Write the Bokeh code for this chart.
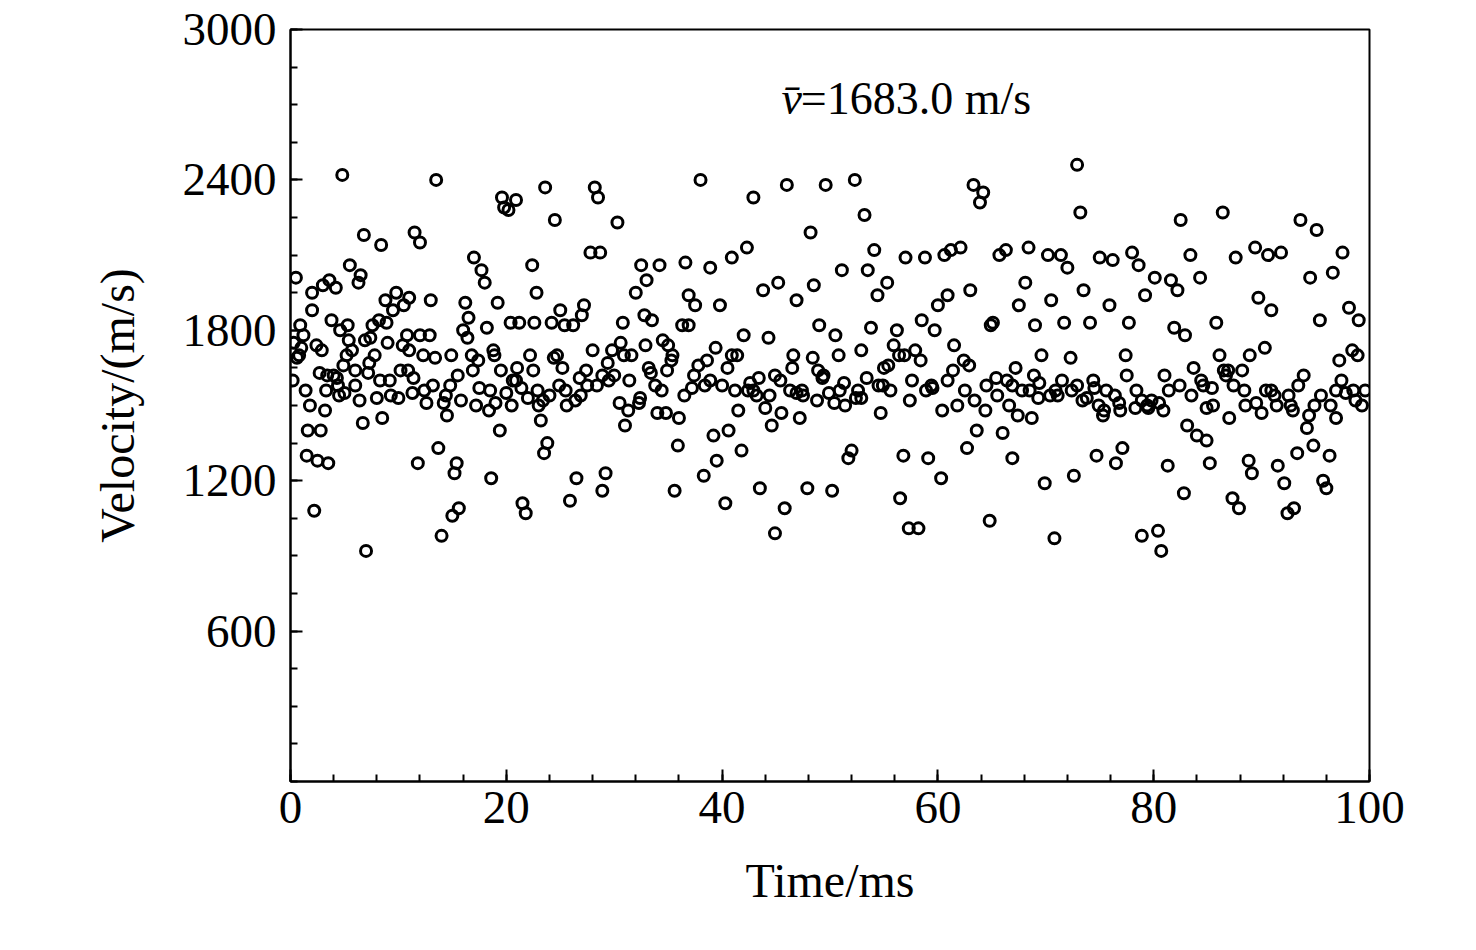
from bokeh.plotting import figure
from bokeh.models import FixedTicker, ColumnDataSource
from bokeh.core.properties import value
from bokeh.embed import file_html
from bokeh.resources import INLINE

# velocity samples (time in ms, velocity in m/s)
t_ms = [0.2, 0.3, 0.5, 0.8, 1, 1.2, 1.5, 1.6, 1.8, 2, 2, 2.2, 2.5, 2.7, 2.8, 3, 3.2, 3.3, 3.5, 3.6,
        3.8, 4, 4.2, 4.3, 4.5, 4.6, 4.8, 5, 5.2, 5.3, 5.5, 5.7, 6, 6, 6.3, 6.5, 6.7, 6.8, 7, 7.2,
        7.4, 7.6, 7.8, 8, 8.2, 8.4, 8.5, 8.8, 9, 9.2, 9.5, 9.8, 10, 10.2, 10.5, 10.8, 11, 11, 11.3, 11.5,
        11.8, 12, 12, 12.3, 12.6, 13, 13.2, 13.5, 13.7, 14, 14.2, 14.5, 14.8, 15, 15.2, 15.4, 15.6, 15.8, 16, 16.2,
        16.5, 16.8, 17, 17.2, 17.5, 17.7, 18, 18.2, 18.4, 18.6, 18.8, 19, 19.2, 19.4, 19.6, 19.8, 20, 20.2, 20.4, 20.6,
        20.9, 21, 21.2, 21.5, 21.8, 22, 22.2, 22.4, 22.6, 22.8, 23, 23.2, 23.5, 23.6, 23.8, 24, 24.2, 24.5, 24.7, 25,
        25.2, 25.4, 25.6, 25.9, 26.2, 26.5, 26.8, 27, 27.2, 27.5, 27.8, 28, 28.2, 28.5, 28.7, 28.9, 29.2, 29.5, 29.8, 30,
        30.3, 30.6, 30.8, 31, 31.3, 31.6, 32, 32.3, 32.5, 32.8, 33, 33.2, 33.5, 33.8, 34, 34.2, 34.5, 34.8, 35, 35.3,
        35.6, 35.9, 36, 36.3, 36.6, 36.9, 37.2, 37.5, 37.8, 38, 38.3, 38.6, 38.9, 39.2, 39.5, 39.8, 40, 40.3, 40.6, 40.9,
        41.2, 41.5, 41.8, 42, 42.3, 42.6, 42.9, 43.2, 43.5, 43.8, 44, 44.3, 44.6, 44.9, 45.2, 45.5, 45.8, 46, 46.3, 46.6,
        46.9, 47.2, 47.5, 47.9, 48.2, 48.5, 48.8, 49, 49.3, 49.6, 49.9, 50.2, 50.5, 50.8, 51.1, 51.4, 51.7, 52, 52.3, 52.6,
        52.9, 53.2, 53.5, 53.8, 54.1, 54.4, 54.7, 55, 55.3, 55.6, 55.9, 56.2, 56.5, 56.8, 57, 57.3, 57.6, 57.9, 58.2, 58.5,
        58.8, 59.1, 59.4, 59.7, 60, 60.3, 60.6, 60.9, 61.2, 61.5, 61.8, 62.1, 62.4, 62.7, 63, 63.3, 63.6, 63.9, 64.2, 64.5,
        64.8, 65.1, 65.4, 65.7, 66, 66.3, 66.6, 66.9, 67.2, 67.5, 67.8, 68.1, 68.4, 68.7, 69, 69.3, 69.6, 69.9, 70.2, 70.5,
        70.8, 71.1, 71.4, 71.7, 72, 72.3, 72.6, 72.9, 73.2, 73.5, 73.8, 74.1, 74.4, 74.7, 75, 75.3, 75.6, 75.9, 76.2, 76.5,
        76.8, 77.1, 77.4, 77.7, 78, 78.3, 78.6, 78.9, 79.2, 79.5, 79.8, 80.1, 80.4, 80.7, 81, 81.3, 81.6, 81.9, 82.2, 82.5,
        82.8, 83.1, 83.4, 83.7, 84, 84.3, 84.6, 84.9, 85.2, 85.5, 85.8, 86.1, 86.4, 86.7, 87, 87.3, 87.6, 87.9, 88.2, 88.5,
        88.8, 89.1, 89.4, 89.7, 90, 90.3, 90.6, 90.9, 91.2, 91.5, 91.8, 92.1, 92.4, 92.7, 93, 93.3, 93.6, 93.9, 94.2, 94.5,
        94.8, 95.1, 95.4, 95.7, 96, 96.3, 96.6, 96.9, 97.2, 97.5, 97.8, 98.1, 98.4, 98.7, 99, 99.3]
v_ms = [1600, 1750, 2010, 1700, 1730, 1780, 1300, 1400, 1500, 1950, 1880, 1080, 1280, 1630, 1400, 1980, 1480, 1560, 1270, 2000,
        1840, 1620, 1970, 1610, 1540, 1800, 2420, 1550, 1700, 1820, 2060, 1720, 1580, 1640, 1990, 2020, 1430, 2180, 920, 1630,
        1770, 1820, 1700, 1530, 1840, 2140, 1450, 1920, 1750, 1600, 1880, 1950, 1530, 1640, 1900, 1780, 1930, 1720, 1550, 2190,
        1270, 2150, 1780, 1700, 1510, 1920, 1580, 2400, 1330, 980, 1510, 1460, 1580, 1060, 1230, 1270, 1090, 1520, 1800, 1910,
        1850, 1700, 2090, 1500, 1570, 2040, 1990, 1810, 1480, 1210, 1720, 1510, 1910, 1400, 2330, 2290, 1550, 2280, 1830, 1600,
        2320, 1650, 1830, 1110, 1070, 1530, 1700, 2060, 1830, 1950, 1500, 1440, 1310, 2370, 1350, 1540, 1830, 2240, 1700, 1880,
        1650, 1820, 1500, 1120, 1820, 1210, 1610, 1860, 1900, 1580, 2110, 1720, 2370, 2330, 2110, 1160, 1230, 1600, 1720, 1620,
        2230, 1750, 1830, 1420, 1480, 1700, 1950, 1510, 2060, 1860, 2000, 1650, 1840, 1580, 1470, 2060, 1760, 1470, 1740, 1680,
        1160, 1340, 1450, 1820, 2070, 1940, 1570, 1900, 1660, 2400, 1220, 1680, 2050, 1380, 1280, 1900, 1580, 1110, 1400, 2090,
        1560, 1480, 1320, 1780, 2130, 1590, 2330, 1540, 1170, 1960, 1490, 1770, 1420, 990, 1990, 1470, 1090, 2380, 1560, 1700,
        1920, 1450, 1540, 1170, 2190, 1980, 1520, 1820, 1610, 2380, 1550, 1160, 1780, 1700, 2040, 1500, 1290, 1320, 2400, 1560,
        1530, 2260, 2040, 1810, 2120, 1940, 1470, 1650, 1990, 1560, 1740, 1800, 1130, 1300, 2090, 1010, 1600, 1720, 1010, 1840,
        2090, 1290, 1580, 1800, 1900, 1210, 2100, 1940, 2120, 1740, 1500, 2130, 1680, 1330, 1960, 2380, 1400, 2310, 2350, 1580,
        1040, 1830, 1610, 2100, 1390, 2120, 1500, 1290, 1650, 1900, 1560, 1990, 2130, 1450, 1820, 1530, 1700, 1190, 2100, 1920,
        970, 1540, 2100, 1830, 2050, 1690, 1220, 2460, 2270, 1960, 1530, 1830, 1600, 1300, 2090, 1460, 1560, 1900, 2080, 1270,
        1510, 1330, 1700, 1830, 2110, 1490, 2060, 980, 1940, 1490, 1520, 2010, 1000, 920, 1620, 1260, 2000, 1810, 1960, 2240,
        1150, 1420, 2100, 1650, 1380, 2010, 1580, 1360, 1270, 1500, 1830, 1700, 2270, 1620, 1450, 1130, 2090, 1090, 1640, 1500,
        1280, 1230, 2130, 1930, 1470, 1730, 2100, 1880, 1540, 1260, 2110, 1190, 1070, 1500, 1090, 1310, 2240, 1620, 1410, 2010,
        1340, 2200, 1840, 1200, 1170, 1300, 2030, 1450, 1680, 2110, 1550, 1890, 1720, 1520, 1840, 1500]

# extra points in the dense band around the mean
band_t = [0.6, 1.4, 2.4, 3.4, 4.4, 5.4, 6.4, 7.3, 8.3, 9.3, 10.4, 11.4, 12.4, 13.4, 14.4, 15.5, 16.4, 17.4, 18.5, 19.5,
          20.5, 21.4, 22.5, 23.4, 24.4, 25.5, 26.4, 27.4, 28.4, 29.4, 30.5, 31.4, 32.4, 33.4, 34.4, 35.4, 36.5, 37.4, 38.4, 39.4,
          40.5, 41.4, 42.4, 43.4, 44.4, 45.4, 46.5, 47.4, 48.4, 49.4, 50.4, 51.3, 52.4, 53.4, 54.5, 55.4, 56.4, 57.4, 58.4, 59.5,
          60.4, 61.4, 62.5, 63.4, 64.4, 65.5, 66.4, 67.4, 68.5, 69.4, 70.4, 71.5, 72.4, 73.4, 74.5, 75.4, 76.4, 77.5, 78.4, 79.4,
          80.5, 81.4, 82.4, 83.5, 84.4, 85.4, 86.5, 87.4, 88.4, 89.5, 90.4, 91.4, 92.5, 93.4, 94.4, 95.5, 96.4, 97.4, 98.5, 99.6,
          0.9, 2.9, 4.9, 6.9, 8.9, 10.9, 12.9, 14.9, 16.9, 18.9, 20.9, 22.9, 24.9, 26.9, 28.9, 30.9, 32.9, 34.9, 36.9, 38.9,
          40.9, 42.9, 44.9, 46.9, 48.9, 50.9, 52.9, 54.9, 56.9, 58.9, 60.9, 62.9, 64.9, 66.9, 68.9, 70.9, 72.9, 74.9, 76.9, 78.9,
          80.9, 82.9, 84.9, 86.9, 88.9, 90.9, 92.9, 94.9, 96.9, 98.9]
band_v = [1690, 1560, 1740, 1620, 1580, 1760, 1520, 1670, 1600, 1540, 1740, 1610, 1560, 1690, 1540, 1620, 1770, 1680, 1560, 1640,
          1500, 1570, 1640, 1520, 1690, 1560, 1520, 1640, 1580, 1670, 1510, 1600, 1530, 1630, 1560, 1700, 1540, 1620, 1580, 1730,
          1650, 1700, 1560, 1610, 1540, 1600, 1650, 1560, 1690, 1620, 1510, 1590, 1530, 1610, 1580, 1660, 1700, 1520, 1680, 1570,
          1480, 1640, 1560, 1520, 1480, 1540, 1600, 1460, 1560, 1590, 1540, 1600, 1560, 1520, 1570, 1480, 1540, 1620, 1560, 1500,
          1510, 1560, 1580, 1540, 1600, 1570, 1640, 1580, 1560, 1510, 1560, 1500, 1540, 1580, 1460, 1540, 1500, 1600, 1560, 1560,
          1820, 1720, 1660, 1760, 1830, 1640, 1780, 1700, 1640, 1700, 1600, 1560, 1580, 1540, 1620, 1700, 1740, 1640, 1820, 1600,
          1700, 1560, 1620, 1550, 1640, 1560, 1720, 1580, 1700, 1560, 1600, 1660, 1820, 1580, 1620, 1560, 1580, 1500, 1480, 1520,
          1480, 1780, 1490, 1640, 1700, 1560, 1480, 1500, 1560, 1700]

mean_v = 1683.0
serif = "Liberation Serif"

p = figure(width=1460, height=934, x_range=(0, 100), y_range=(0, 3000),
           output_backend="svg", toolbar_location=None)
p.frame_width = 1079
p.frame_height = 752
p.min_border_left = 290
p.min_border_top = 29
p.min_border_right = 90
p.min_border_bottom = 140
p.grid.visible = False
p.outline_line_color = "black"
p.outline_line_width = 2
p.background_fill_color = "white"

src = ColumnDataSource(dict(t=t_ms + band_t, v=v_ms + band_v))
p.scatter("t", "v", source=src, size=11, fill_color=None,
          line_color="black", line_width=3)

p.xaxis.ticker = FixedTicker(ticks=[0, 20, 40, 60, 80, 100],
                             minor_ticks=list(range(0, 101, 4)))
p.yaxis.ticker = FixedTicker(ticks=[600, 1200, 1800, 2400, 3000],
                             minor_ticks=list(range(0, 3001, 150)))
for ax in (p.xaxis[0], p.yaxis[0]):
    ax.axis_line_width = 2
    ax.major_tick_line_width = 2
    ax.minor_tick_line_width = 2
    ax.major_tick_in = 12
    ax.major_tick_out = 0
    ax.minor_tick_in = 7
    ax.minor_tick_out = 0
    ax.major_label_text_font = serif
    ax.major_label_text_font_size = "47px"
    ax.major_label_text_color = "black"
    ax.axis_label_text_font = serif
    ax.axis_label_text_font_size = "48px"
    ax.axis_label_text_font_style = "normal"
    ax.axis_label_text_color = "black"
p.xaxis.axis_label = "Time/ms"
p.yaxis.axis_label = "Velocity/(m/s)"
p.xaxis.major_label_standoff = 10
p.yaxis.major_label_standoff = 14
p.xaxis.axis_label_standoff = 28
p.yaxis.axis_label_standoff = 36

p.text(x=[45.5], y=[2725], text=["v\u0304"], text_font=value(serif),
       text_font_size="46px", text_font_style="italic", text_baseline="middle")
p.text(x=[47.3], y=[2725], text=["=%.1f m/s" % mean_v], text_font=value(serif),
       text_font_size="46px", text_baseline="middle")

open("out.html", "w").write(file_html(p, INLINE))
